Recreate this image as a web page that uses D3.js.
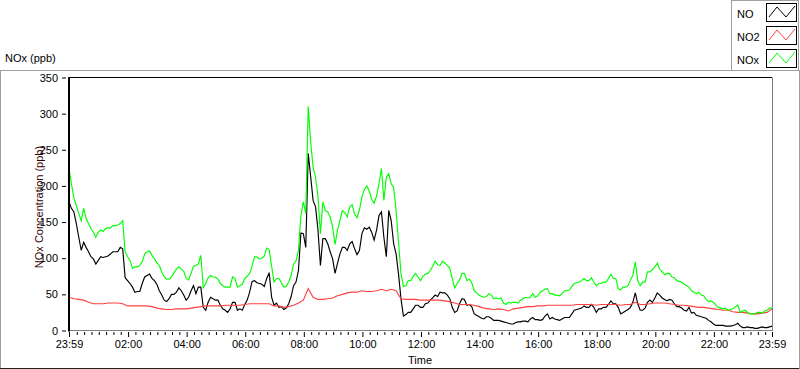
<!DOCTYPE html>
<html><head><meta charset="utf-8">
<script src="https://cdn.jsdelivr.net/npm/d3@7"></script>
<style>
body{margin:0;background:#fff;}
svg{display:block;font-family:"Liberation Sans",Arial,sans-serif;}
</style>
</head><body>
<svg id="c" width="800" height="369"></svg>
<script>
// sample times, minutes after 23:59
const minutes5 = [0,5,10,15,20,25,30,35,40,45,50,55,60,65,70,75,80,85,90,95,100,105,110,115,120,125,130,135,140,145,150,155,160,165,170,175,180,185,190,195,200,205,210,215,220,225,230,235,240,245,250,255,260,265,270,275,280,285,290,295,300,305,310,315,320,325,330,335,340,345,350,355,360,365,370,375,380,385,390,395,400,405,410,415,420,425,430,435,440,445,450,455,460,465,470,475,480,485,490,495,500,505,510,515,520,525,530,535,540,545,550,555,560,565,570,575,580,585,590,595,600,605,610,615,620,625,630,635,640,645,650,655,660,665,670,675,680,685,690,695,700,705,710,715,720,725,730,735,740,745,750,755,760,765,770,775,780,785,790,795,800,805,810,815,820,825,830,835,840,845,850,855,860,865,870,875,880,885,890,895,900,905,910,915,920,925,930,935,940,945,950,955,960,965,970,975,980,985,990,995,1000,1005,1010,1015,1020,1025,1030,1035,1040,1045,1050,1055,1060,1065,1070,1075,1080,1085,1090,1095,1100,1105,1110,1115,1120,1125,1130,1135,1140,1145,1150,1155,1160,1165,1170,1175,1180,1185,1190,1195,1200,1205,1210,1215,1220,1225,1230,1235,1240,1245,1250,1255,1260,1265,1270,1275,1280,1285,1290,1295,1300,1305,1310,1315,1320,1325,1330,1335,1340,1345,1350,1355,1360,1365,1370,1375,1380,1385,1390,1395,1400,1405,1410,1415,1420,1425,1430,1435,1440];
const minutes10 = [0,10,20,30,40,50,60,70,80,90,100,110,120,130,140,150,160,170,180,190,200,210,220,230,240,250,260,270,280,290,300,310,320,330,340,350,360,370,380,390,400,410,420,430,440,450,460,470,480,490,500,510,520,530,540,550,560,570,580,590,600,610,620,630,640,650,660,670,680,690,700,710,720,730,740,750,760,770,780,790,800,810,820,830,840,850,860,870,880,890,900,910,920,930,940,950,960,970,980,990,1000,1010,1020,1030,1040,1050,1060,1070,1080,1090,1100,1110,1120,1130,1140,1150,1160,1170,1180,1190,1200,1210,1220,1230,1240,1250,1260,1270,1280,1290,1300,1310,1320,1330,1340,1350,1360,1370,1380,1390,1400,1410,1420,1430,1440];

const seriesNames = ["NO","NO2","NOx"];
const seriesColors = ["#000000","#ff4040","#00ff00"];

// NO, every 5 minutes
const no = [178,169,164,148,129,111,122,115,109,102,99,92,97,102,101,102,103,106,109,109,109,115,113,73,69,65,60,53,54,54,65,74,76,78,72,69,64,55,49,42,40,44,50,50,53,59,55,49,42,46,55,62,51,60,60,32,28,39,46,44,42,42,35,30,28,25,30,39,39,28,30,28,36,42,53,68,69,66,65,64,61,72,80,46,35,38,32,33,29,31,37,47,62,67,83,135,134,115,245,213,180,171,139,90,127,127,120,109,99,79,93,106,115,115,111,120,123,113,105,111,134,142,140,143,136,125,139,159,164,129,102,166,152,120,106,78,44,20,22,25,25,30,35,35,32,32,37,38,42,45,49,47,53,52,52,49,44,32,25,27,37,44,43,35,36,33,23,21,19,17,16,19,19,17,14,14,14,13,12,11,10,9,9,11,12,12,13,13,12,16,18,15,15,14,15,20,23,16,18,16,15,14,16,18,18,18,23,28,29,30,31,34,32,32,36,32,25,30,30,32,32,36,41,37,37,32,23,25,27,29,32,39,52,37,28,28,31,39,42,39,45,52,49,45,43,41,43,42,37,33,33,31,28,27,32,24,25,21,20,19,18,17,14,12,9,7,7,7,7,6,6,6,7,8,10,6,4,4,5,4,4,3,3,4,5,4,4,5,6];

// NO2, every 10 minutes
const no2 = [46,44,43,42,39,37,37,37,38,38,38,37,34,34,34,34,34,33,31,30,29,29,30,30,30,31,32,33,34,34,34,34,35,35,35,35,36,37,37,37,37,37,34,34,32,33,35,38,42,58,46,43,43,44,45,48,50,52,53,53,55,54,54,55,57,55,57,55,44,43,43,43,42,42,42,42,42,41,40,38,36,36,36,35,33,31,30,29,30,29,27,30,31,32,33,33,34,34,35,35,35,35,35,35,36,36,36,36,35,36,36,36,36,35,36,36,39,36,36,37,38,38,38,37,36,35,35,34,33,32,32,31,30,29,28,28,26,25,25,24,23,23,24,25,30];

// NOx, every 5 minutes
const nox = [224,203,183,173,162,152,169,155,148,141,136,129,136,139,137,141,142,142,145,145,146,148,152,109,102,97,86,88,88,90,95,106,109,110,104,99,94,90,81,74,71,71,74,80,85,88,85,82,72,70,79,89,90,92,104,59,65,73,76,74,74,71,65,62,60,60,60,74,72,60,62,64,72,75,79,89,102,102,99,100,103,114,112,89,67,72,72,66,60,61,67,76,92,96,111,159,178,162,310,261,226,212,185,134,178,166,164,157,143,119,139,152,166,163,157,171,174,161,156,167,185,195,200,193,182,176,186,203,224,180,212,217,203,198,166,122,79,61,62,69,69,75,79,74,69,75,78,79,83,89,96,91,90,96,93,90,86,72,59,65,70,79,79,69,71,66,55,52,49,47,46,47,51,49,44,45,44,45,38,36,39,38,39,39,38,42,44,46,45,46,51,46,48,53,55,57,58,51,51,49,49,48,51,55,55,56,61,65,66,67,69,72,69,69,73,67,62,65,65,67,67,72,78,72,72,58,56,60,60,62,70,76,95,69,62,67,67,81,81,84,88,93,85,81,77,79,79,74,73,69,68,67,64,62,60,55,53,51,53,49,48,43,40,41,39,35,32,31,30,31,28,29,30,33,35,25,27,28,25,23,23,23,25,25,24,27,28,31,31];

const yTicks = [0,50,100,150,200,250,300,350];
const xTickMinutes = [0,121,241,361,481,601,721,841,961,1081,1201,1321,1440];
const xTickLabels = ["23:59","02:00","04:00","06:00","08:00","10:00","12:00","14:00","16:00","18:00","20:00","22:00","23:59"];

const svg = d3.select("#c");
const L = 69, R = 772, T = 77.5, B = 330.5;
const x = d3.scaleLinear().domain([0,1440]).range([L,R]);
const y = d3.scaleLinear().domain([0,350]).range([B,T]);

// outer panel frame
svg.append("line").attr("x1",0).attr("x2",731).attr("y1",70.5).attr("y2",70.5).attr("stroke","#a0a0a0");
svg.append("line").attr("x1",0.5).attr("x2",0.5).attr("y1",70).attr("y2",368).attr("stroke","#a0a0a0");
svg.append("line").attr("x1",0).attr("x2",800).attr("y1",368.5).attr("y2",368.5).attr("stroke","#202020");
svg.append("line").attr("x1",799.5).attr("x2",799.5).attr("y1",70).attr("y2",369).attr("stroke","#a0a0a0");

// title
svg.append("text").attr("x",5).attr("y",62).attr("font-size",11).attr("fill","#000").text("NOx (ppb)");

// legend
const lg = svg.append("g");
lg.append("rect").attr("x",731.5).attr("y",0.5).attr("width",67).attr("height",70).attr("fill","#fff").attr("stroke","#a0a0a0");
seriesNames.forEach((n,i)=>{
  const yy = 23*i;
  lg.append("text").attr("x",737).attr("y",17.5+yy).attr("font-size",11).attr("fill","#000").text(n);
  lg.append("rect").attr("x",766.5).attr("y",3.5+yy).attr("width",30).attr("height",18).attr("fill","#fff").attr("stroke","#000");
  lg.append("path").attr("d",`M769,${17+yy} L777,${7+yy} L786,${17+yy} L795,${6+yy}`).attr("fill","none").attr("stroke",seriesColors[i]).attr("stroke-width",1);
});

// plot area borders
svg.append("line").attr("x1",L).attr("x2",R+0.5).attr("y1",B).attr("y2",B).attr("stroke","#808080");
svg.append("line").attr("x1",R+0.5).attr("x2",R+0.5).attr("y1",T).attr("y2",B+0.5).attr("stroke","#808080");
svg.append("line").attr("x1",L-1).attr("x2",R).attr("y1",T).attr("y2",T).attr("stroke","#000");

// y axis ticks
const ya = svg.append("g").attr("transform","translate(66,0)")
  .call(d3.axisLeft(y).tickValues(yTicks).tickSize(4).tickPadding(4).tickFormat(d3.format("d")));
ya.select(".domain").remove();
ya.selectAll("text").attr("font-size",11).attr("font-family","Liberation Sans, Arial, sans-serif").attr("fill","#000");
ya.selectAll("line").attr("stroke","#000");

// x axis ticks
const minorTicks = [];
for (let m = 121 - 15*7; m < 1440; m += 15) if (!xTickMinutes.some(v=>Math.abs(v-m)<3)) minorTicks.push(m);
const xmin = svg.append("g").attr("transform",`translate(0,${B+1.5})`)
  .call(d3.axisBottom(x).tickValues(minorTicks).tickSize(3).tickFormat(""));
xmin.select(".domain").remove();
xmin.selectAll("line").attr("stroke","#000");
const xa = svg.append("g").attr("transform",`translate(0,${B+1.5})`)
  .call(d3.axisBottom(x).tickValues(xTickMinutes).tickSize(5).tickPadding(3).tickFormat((d,i)=>xTickLabels[i]));
xa.select(".domain").remove();
xa.selectAll("line").attr("stroke","#000");
xa.selectAll("text").attr("font-size",11).attr("font-family","Liberation Sans, Arial, sans-serif").attr("fill","#000");

// axis titles
svg.append("text").attr("x",420).attr("y",364).attr("text-anchor","middle").attr("font-size",11).attr("fill","#000").text("Time");
svg.append("text").attr("transform","translate(43,207) rotate(-90)").attr("text-anchor","middle").attr("font-size",11).attr("fill","#300000").text("NOx Concentration (ppb)");

// lines
const series = [[no,minutes5],[no2,minutes10],[nox,minutes5]];
series.forEach(([vals,times],i)=>{
  const line = d3.line().x((d,j)=>x(times[j])).y(d=>y(d));
  svg.append("path").datum(vals).attr("d",line).attr("fill","none").attr("stroke",seriesColors[i]).attr("stroke-width",1.15);
});

// left axis line (on top)
svg.append("rect").attr("x",L-1).attr("y",T).attr("width",2).attr("height",B-T+1).attr("fill","#000");
</script>
</body></html>
